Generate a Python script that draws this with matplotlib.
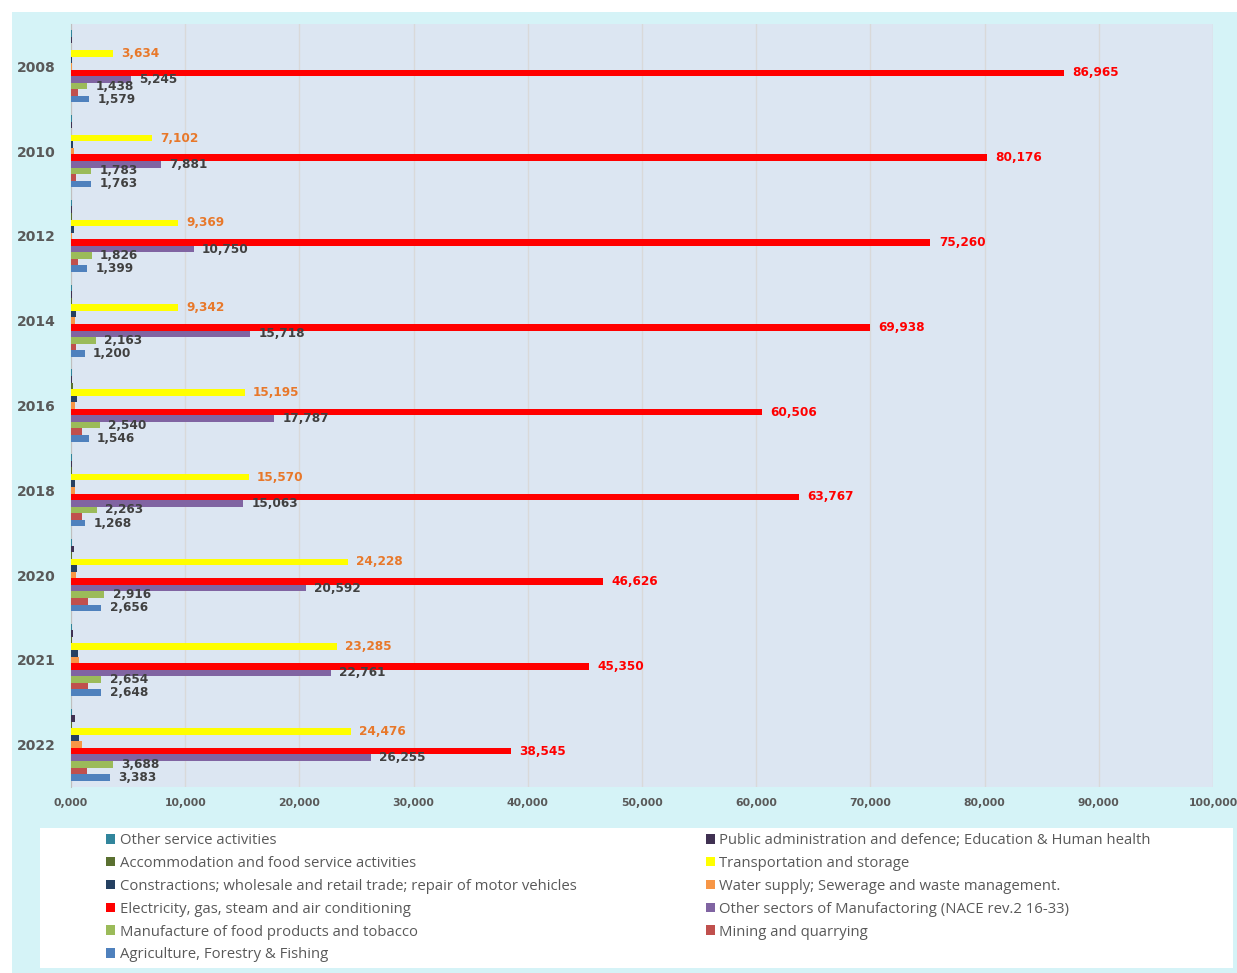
import numpy as np
import matplotlib.pyplot as plt
from matplotlib.patches import Rectangle
from matplotlib.ticker import FuncFormatter

years = ['2008', '2010', '2012', '2014', '2016', '2018', '2020', '2021', '2022']

# series, listed bottom to top inside each year group
agriculture = [1579, 1763, 1399, 1200, 1546, 1268, 2656, 2648, 3383]
mining = [600, 480, 620, 470, 1000, 1000, 1500, 1450, 1400]
food = [1438, 1783, 1826, 2163, 2540, 2263, 2916, 2654, 3688]
other_manuf = [5245, 7881, 10750, 15718, 17787, 15063, 20592, 22761, 26255]
electricity = [86965, 80176, 75260, 69938, 60506, 63767, 46626, 45350, 38545]
water = [60, 280, 60, 350, 380, 320, 410, 700, 930]
construction = [130, 190, 280, 410, 520, 380, 500, 600, 730]
transport = [3634, 7102, 9369, 9342, 15195, 15570, 24228, 23285, 24476]
accommodation = [20, 20, 60, 60, 170, 120, 80, 100, 100]
public_admin = [90, 50, 50, 50, 80, 60, 220, 200, 350]
other_service = [80, 60, 70, 70, 90, 80, 70, 80, 90]

series = [
    ('Agriculture, Forestry & Fishing', agriculture, '#4f81bd', '#404040'),
    ('Mining and quarrying', mining, '#c0504d', None),
    ('Manufacture of food products and tobacco', food, '#9bbb59', '#404040'),
    ('Other sectors of Manufactoring (NACE rev.2 16-33)', other_manuf, '#8064a2', '#404040'),
    ('Electricity, gas, steam and air conditioning', electricity, '#ff0000', '#ff0000'),
    ('Water supply; Sewerage and waste management.', water, '#f79646', None),
    ('Constractions; wholesale and retail trade; repair of motor vehicles', construction, '#254061', None),
    ('Transportation and storage', transport, '#ffff00', '#e8782a'),
    ('Accommodation and food service activities', accommodation, '#5a7030', None),
    ('Public administration and defence; Education & Human health', public_admin, '#403152', None),
    ('Other service activities', other_service, '#31859c', None),
]

fig = plt.figure(figsize=(12.37, 9.73), dpi=100, facecolor='white')
W, H = 1237, 973
fig.patches.append(Rectangle((12 / W, 0), 1, 1 - 12 / H, transform=fig.transFigure,
                             facecolor='#d5f3f7', edgecolor='none', zorder=-10))
fig.patches.append(Rectangle((40 / W, 1 - 968 / H), (1233 - 40) / W, 140 / H,
                             transform=fig.transFigure, facecolor='white',
                             edgecolor='none', zorder=-5))

ax = fig.add_axes([71 / W, 1 - 787 / H, (1213 - 71) / W, (787 - 24) / H])
ax.set_facecolor('#dce6f2')

n = len(series)
h = 0.85 / n
y0 = np.arange(len(years))
handles = {}
for j, (name, vals, col, lcol) in enumerate(series):
    ypos = y0 + (n / 2 - 0.5 - j) * h
    bars = ax.barh(ypos, vals, height=h, color=col, label=name, zorder=3)
    handles[name] = bars
    if lcol:
        for b, v in zip(bars, vals):
            ax.annotate(f'{v:,}', (b.get_width(), b.get_y() + b.get_height() / 2),
                        xytext=(6, 0), textcoords='offset points', va='center',
                        ha='left', fontsize=8.7, fontweight='bold', color=lcol, zorder=4)

ax.set_ylim(len(years) - 0.5, -0.5)
ax.set_yticks(y0)
ax.set_yticklabels(years, fontsize=10, fontweight='bold', color='#595959')
ax.set_xlim(0, 100000)
ax.set_xticks(np.arange(0, 100001, 10000))
ax.xaxis.set_major_formatter(FuncFormatter(lambda x, p: '0,000' if x == 0 else f'{int(x):,}'))
for t in ax.get_xticklabels():
    t.set_fontweight('bold')
ax.tick_params(axis='x', length=0, pad=8, labelsize=7.8, labelcolor='#595959')
ax.tick_params(axis='y', length=0, pad=11)
ax.grid(axis='x', color='#d9d9d9', linewidth=1, zorder=0)
for s in ['top', 'right', 'bottom']:
    ax.spines[s].set_visible(False)
ax.spines['left'].set_color('#bfbfbf')

order = [10, 8, 6, 4, 2, 0, 9, 7, 5, 3, 1]
leg = fig.legend([handles[series[k][0]] for k in order], [series[k][0] for k in order],
                 ncol=2, loc='upper left', bbox_to_anchor=(106 / W, 1 - 833 / H),
                 frameon=False, prop={'family': 'Open Sans', 'size': 10.7},
                 handlelength=0.62, handleheight=0.62, handletextpad=0.3,
                 labelspacing=0.53, columnspacing=8.7, borderpad=0, borderaxespad=0)
for t in leg.get_texts():
    t.set_color('#595959')

fig.savefig('out.png', dpi=100, facecolor=fig.get_facecolor())
